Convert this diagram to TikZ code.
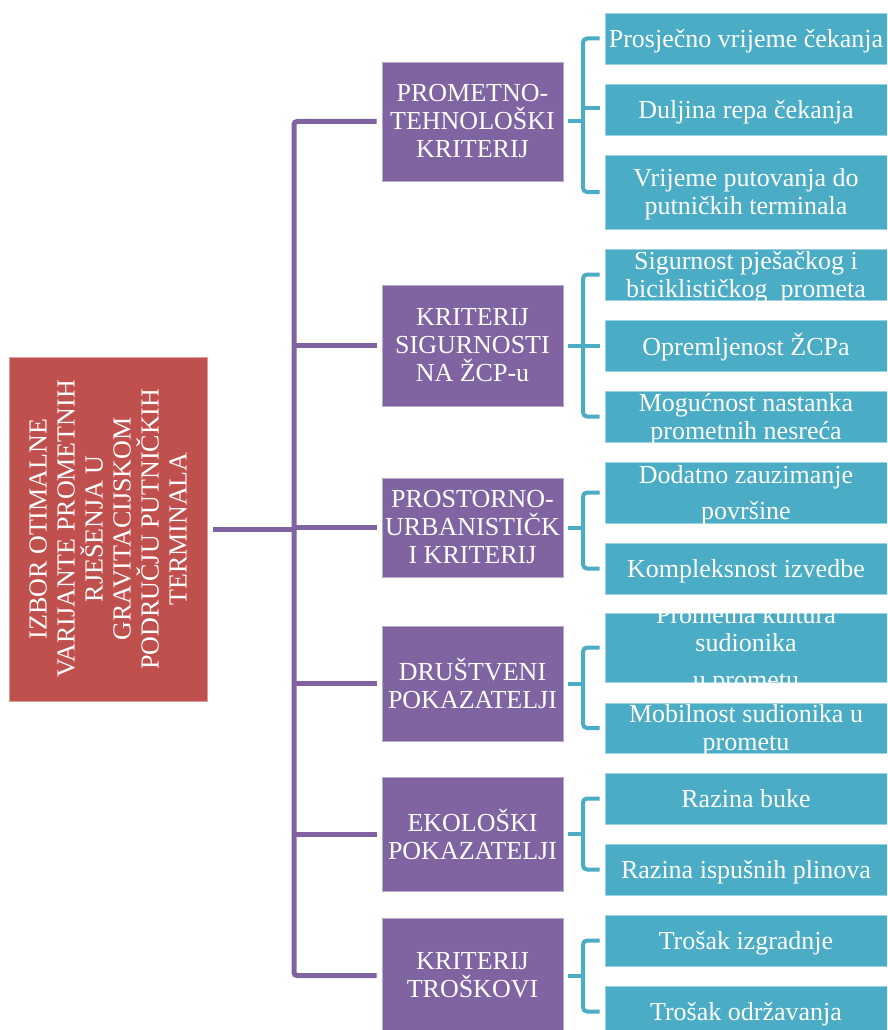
\documentclass[tikz,border=0pt]{standalone}
\usepackage{fontspec}
\usepackage{calc}
\setmainfont{Liberation Serif}
\definecolor{purp}{HTML}{8064A2}
\definecolor{tealc}{HTML}{4BACC6}
\definecolor{redc}{HTML}{C0504D}
\newcommand\tlow[1]{\raisebox{-3pt}[\height-5pt][\depth-5pt]{\begin{tabular}{@{}c@{}}#1\end{tabular}}}
\begin{document}
\begin{tikzpicture}[x=1pt,y=-1pt,
 box/.style={rectangle, inner sep=0pt, align=center, text=white, font=\fontsize{26}{28}\selectfont, line width=0.8pt},
 pbox/.style={box, fill=purp, draw=purp!55!white, minimum width=181pt},
 tbox/.style={box, fill=tealc, draw=tealc!55!white, minimum width=282pt, minimum height=51pt},
 txt/.style={inner sep=0pt, align=center, text=white, font=\fontsize{26}{28}\selectfont},
 pline/.style={draw=purp, line width=5pt, rounded corners=3pt},
 tline/.style={draw=tealc, line width=4pt, rounded corners=4pt}]
\useasboundingbox (0,0) rectangle (887,1030);
\clip (0,0) rectangle (887,1030);

% root
\node[box, fill=redc, draw=redc!55!white, minimum width=198pt, minimum height=344pt] (R) at (108,529) {};
\node[txt, rotate=90] (Rt) at (R.center) {IZBOR OTIMALNE\\VARIJANTE PROMETNIH\\RJEŠENJA U\\GRAVITACIJSKOM\\PODRUČJU PUTNIČKIH\\TERMINALA};

% criteria
\node[pbox, minimum height=119pt] (P1) at (472.5,121.5) {PROMETNO-\\TEHNOLOŠKI\\KRITERIJ};
\node[pbox, minimum height=121pt] (P2) at (472.5,345.5) {KRITERIJ\\SIGURNOSTI\\NA ŽCP-u};
\node[pbox, minimum height=99pt] (P3) at (472.5,527.5) {PROSTORNO-\\URBANISTIČK\\I KRITERIJ};
\node[pbox, minimum height=115pt] (P4) at (472.5,683.5) {DRUŠTVENI\\POKAZATELJI};
\node[pbox, minimum height=114pt] (P5) at (472.5,834) {EKOLOŠKI\\POKAZATELJI};
\node[pbox, minimum height=115pt] (P6) at (472.5,975.5) {KRITERIJ\\TROŠKOVI};

% sub-criteria
\node[tbox] (T1a) at (746,38.5) {\tlow{Prosječno vrijeme čekanja}};
\node[tbox] (T1b) at (746,109.5) {\tlow{Duljina repa čekanja}};
\node[tbox, minimum height=74pt] (T1c) at (746,192) {\tlow{Vrijeme putovanja do\\putničkih terminala}};
\node[tbox] (T2a) at (746,274.5) {\tlow{Sigurnost pješačkog i\\biciklističkog~ prometa}};
\node[tbox] (T2b) at (746,345.5) {\tlow{Opremljenost ŽCPa}};
\node[tbox] (T2c) at (746,416.5) {\tlow{Mogućnost nastanka\\prometnih nesreća}};
\node[tbox, minimum height=61pt] (T3a) at (746,492.5) {\tlow{Dodatno zauzimanje\\[8pt]površine}};
\node[tbox] (T3b) at (746,568.5) {\tlow{Kompleksnost izvedbe}};
\node[tbox, minimum height=69pt] (T4a) at (746,647.5) {};
\begin{scope}
\clip (T4a.south west) rectangle (T4a.north east);
\node[txt, yshift=-2pt] (T4at) at (T4a.center) {Prometna kultura\\sudionika\\[9pt]u prometu};
\end{scope}
\node[tbox, minimum height=50pt] (T4b) at (746,728) {\tlow{Mobilnost sudionika u\\prometu}};
\node[tbox] (T5a) at (746,798.5) {\tlow{Razina buke}};
\node[tbox] (T5b) at (746,869.5) {\tlow{Razina ispušnih plinova}};
\node[tbox] (T6a) at (746,940.5) {\tlow{Trošak izgradnje}};
\node[tbox] (T6b) at (746,1011.5) {\tlow{Trošak održavanja}};

% trunk
\coordinate (trunk) at (294,0);
\draw[pline] ([xshift=6pt]R.east) -- (R.east -| trunk);
\draw[pline] ([xshift=-5pt]P1.west) -| (P6.west -| trunk) -- ([xshift=-5pt]P6.west);
\foreach \p in {P2,P3,P4,P5}{
  \draw[pline] (\p.west -| trunk) -- ([xshift=-5pt]\p.west);
}

% brackets
\coordinate (bx) at (583,0);
\foreach \p/\a/\b in {P1/T1a/T1c, P2/T2a/T2c, P3/T3a/T3b, P4/T4a/T4b, P5/T5a/T5b, P6/T6a/T6b}{
  \draw[tline] ([xshift=5pt]\p.east) -- (\p.east -| bx);
  \draw[tline] ([xshift=-5pt]\a.west) -| (\b.west -| bx) -- ([xshift=-5pt]\b.west);
}
\draw[tline] (583,108) -- ([xshift=-5pt]T1b.west |- 0,108);
\draw[tline] (T2b.west -| bx) -- ([xshift=-5pt]T2b.west);
\end{tikzpicture}
\end{document}
